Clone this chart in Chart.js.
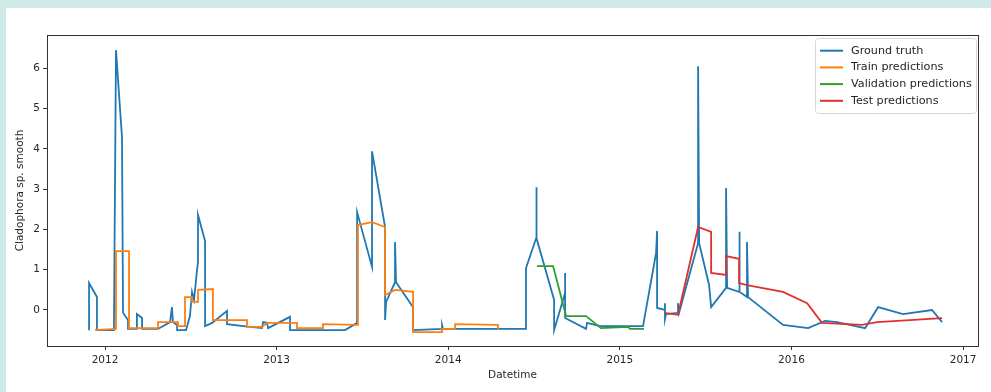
<!DOCTYPE html>
<html><head><meta charset="utf-8">
<script src="https://cdn.jsdelivr.net/npm/chart.js@4.4.1/dist/chart.umd.min.js"></script>
<style>
html,body{margin:0;padding:0;background:#cfe9e6;width:991px;height:392px;overflow:hidden}
#panel{position:absolute;left:6px;top:8px;width:985px;height:384px;background:#fff}
canvas{display:block}
</style></head><body>
<div id="panel"><canvas id="c" width="985" height="384"></canvas></div>
<script>
// ---- data (x in decimal years, y = Cladophora sp. smooth) ----
const gtYears = [2011.907,2011.907,2011.953,2011.953,2012.052,2012.064,2012.099,2012.105,2012.134,2012.134,2012.186,2012.186,2012.216,2012.216,2012.309,2012.379,2012.390,2012.396,2012.420,2012.420,2012.472,2012.495,2012.507,2012.519,2012.536,2012.542,2012.542,2012.583,2012.583,2012.624,2012.711,2012.711,2012.845,2012.915,2012.921,2012.944,2012.950,2013.078,2013.078,2013.399,2013.469,2013.469,2013.556,2013.556,2013.632,2013.632,2013.638,2013.690,2013.690,2013.696,2013.795,2013.795,2013.964,2013.964,2013.970,2014.453,2014.453,2014.512,2014.512,2014.517,2014.617,2014.617,2014.681,2014.681,2014.681,2014.803,2014.809,2014.885,2015.135,2015.211,2015.217,2015.217,2015.263,2015.263,2015.263,2015.269,2015.339,2015.339,2015.345,2015.456,2015.456,2015.462,2015.520,2015.532,2015.619,2015.619,2015.625,2015.695,2015.695,2015.700,2015.741,2015.741,2015.747,2015.951,2016.097,2016.196,2016.266,2016.429,2016.505,2016.650,2016.819,2016.878];
const gtValues = [-0.50,0.67,0.32,-0.50,-0.50,6.45,4.29,-0.07,-0.25,-0.47,-0.47,-0.10,-0.20,-0.47,-0.47,-0.30,0.07,-0.30,-0.37,-0.50,-0.50,-0.15,0.45,0.25,0.99,1.19,2.36,1.71,-0.40,-0.32,-0.02,-0.35,-0.42,-0.45,-0.30,-0.32,-0.45,-0.17,-0.50,-0.50,-0.32,2.43,1.07,3.94,2.06,-0.25,0.20,0.69,1.69,0.69,0.07,-0.50,-0.47,-0.37,-0.47,-0.47,1.04,1.78,3.05,1.78,0.25,-0.50,0.42,0.92,-0.20,-0.47,-0.32,-0.40,-0.40,1.41,1.96,0.05,0.00,0.17,-0.22,-0.10,-0.07,0.17,-0.07,1.66,6.05,1.66,0.62,0.07,0.55,3.03,0.55,0.45,1.94,0.45,0.32,1.69,0.32,-0.37,-0.45,-0.27,-0.30,-0.45,0.07,-0.10,0.00,-0.30];

const trainYears = [2011.942,2012.064,2012.064,2012.140,2012.140,2012.309,2012.309,2012.425,2012.425,2012.466,2012.466,2012.507,2012.507,2012.542,2012.542,2012.629,2012.629,2012.827,2012.827,2012.915,2012.944,2013.119,2013.119,2013.265,2013.270,2013.469,2013.474,2013.556,2013.632,2013.632,2013.690,2013.795,2013.795,2013.964,2013.964,2014.040,2014.040,2014.290,2014.290];
const trainValues = [-0.50,-0.47,1.46,1.46,-0.45,-0.45,-0.30,-0.30,-0.40,-0.40,0.32,0.32,0.20,0.20,0.50,0.52,-0.25,-0.25,-0.42,-0.42,-0.32,-0.32,-0.45,-0.45,-0.35,-0.37,2.11,2.18,2.06,0.37,0.50,0.45,-0.55,-0.55,-0.47,-0.47,-0.35,-0.37,-0.47];

const valYears = [2014.517,2014.611,2014.687,2014.803,2014.890,2015.048,2015.059,2015.141];
const valValues = [1.09,1.09,-0.15,-0.15,-0.45,-0.42,-0.47,-0.47];

const testYears = [2015.258,2015.339,2015.456,2015.532,2015.532,2015.619,2015.619,2015.695,2015.695,2015.741,2015.951,2016.091,2016.178,2016.411,2016.499,2016.878];
const testValues = [-0.07,-0.12,2.06,1.94,0.92,0.87,1.34,1.27,0.67,0.62,0.45,0.17,-0.32,-0.37,-0.30,-0.20];

const seriesLabels = ['Ground truth','Train predictions','Validation predictions','Test predictions'];
const yearTicks = [2012,2013,2014,2015,2016,2017];
const valueTicks = [0,1,2,3,4,5,6];
const xTitle = 'Datetime';
const yTitle = 'Cladophora sp. smooth';

// ---- build ----
const pts = (xs, ys) => xs.map((x, i) => ({x, y: ys[i]}));
const colors = ['#1f77b4','#ff7f0e','#2ca02c','#e0302f'];
const FONT = {family: "'DejaVu Sans', sans-serif", size: 10.5};
const LEGEND_FONT = 11.2;
const INK = '#262626';

const frame = {
  id: 'frame',
  afterDatasetsDraw(chart) {
    const {ctx, chartArea: a} = chart;
    ctx.save();
    ctx.strokeStyle = '#333';
    ctx.lineWidth = 1;
    ctx.strokeRect(Math.round(a.left) + 0.5, Math.round(a.top) + 0.5, Math.round(a.right - a.left), Math.round(a.bottom - a.top));
    ctx.restore();
  }
};

const boxLegend = {
  id: 'boxLegend',
  afterDraw(chart) {
    const {ctx, chartArea: a} = chart;
    const ds = chart.data.datasets;
    const w = 161, rowH = 16.7, h = 75;
    const x0 = a.right - 2 - w, y0 = a.top + 3;
    ctx.save();
    ctx.beginPath();
    ctx.roundRect(x0 + 0.5, y0 + 0.5, w, h, 3);
    ctx.fillStyle = 'rgba(255,255,255,0.85)';
    ctx.fill();
    ctx.strokeStyle = '#d6d6d6';
    ctx.lineWidth = 1;
    ctx.stroke();
    ctx.font = `${LEGEND_FONT}px ${FONT.family}`;
    ctx.textBaseline = 'middle';
    ds.forEach((d, i) => {
      const yy = y0 + 12.7 + i * rowH;
      ctx.strokeStyle = d.borderColor;
      ctx.lineWidth = 2;
      ctx.beginPath();
      ctx.moveTo(x0 + 5, yy);
      ctx.lineTo(x0 + 28, yy);
      ctx.stroke();
      ctx.fillStyle = INK;
      ctx.fillText(d.label, x0 + 36, yy);
    });
    ctx.restore();
  }
};

const seriesX = [gtYears, trainYears, valYears, testYears];
const seriesY = [gtValues, trainValues, valValues, testValues];

new Chart(document.getElementById('c'), {
  type: 'line',
  data: {
    datasets: seriesLabels.map((label, i) => ({
      label,
      data: pts(seriesX[i], seriesY[i]),
      borderColor: colors[i],
      backgroundColor: colors[i],
      borderWidth: 1.8,
      pointRadius: 0,
      tension: 0,
      fill: false,
      order: i === 0 ? 5 : 4 - i
    }))
  },
  options: {
    responsive: false,
    animation: false,
    events: [],
    layout: {padding: {left: 0, top: 27, right: 13, bottom: 0}},
    plugins: {legend: {display: false}, tooltip: {enabled: false}},
    scales: {
      x: {
        type: 'linear',
        min: 2011.662, max: 2017.087,
        afterFit: s => { s.height = 46; },
        afterBuildTicks: s => { s.ticks = yearTicks.map(v => ({value: v})); },
        ticks: {font: FONT, color: INK, padding: 4, maxRotation: 0, autoSkip: false,
                callback: v => String(v)},
        grid: {display: true, drawOnChartArea: false, drawTicks: true, tickLength: 4, color: '#333'},
        border: {display: false},
        title: {display: true, text: xTitle, font: FONT, color: INK, padding: {top: 0, bottom: 10}}
      },
      y: {
        type: 'linear',
        min: -0.894, max: 6.827,
        afterFit: s => { s.width = 41; },
        afterBuildTicks: s => { s.ticks = valueTicks.map(v => ({value: v})); },
        ticks: {font: FONT, color: INK, padding: 3, autoSkip: false, callback: v => String(v)},
        grid: {display: true, drawOnChartArea: false, drawTicks: true, tickLength: 4, color: '#333'},
        border: {display: false},
        title: {display: true, text: yTitle, font: FONT, color: INK, padding: {top: 8, bottom: 0}}
      }
    }
  },
  plugins: [frame, boxLegend]
});
</script>
</body></html>
